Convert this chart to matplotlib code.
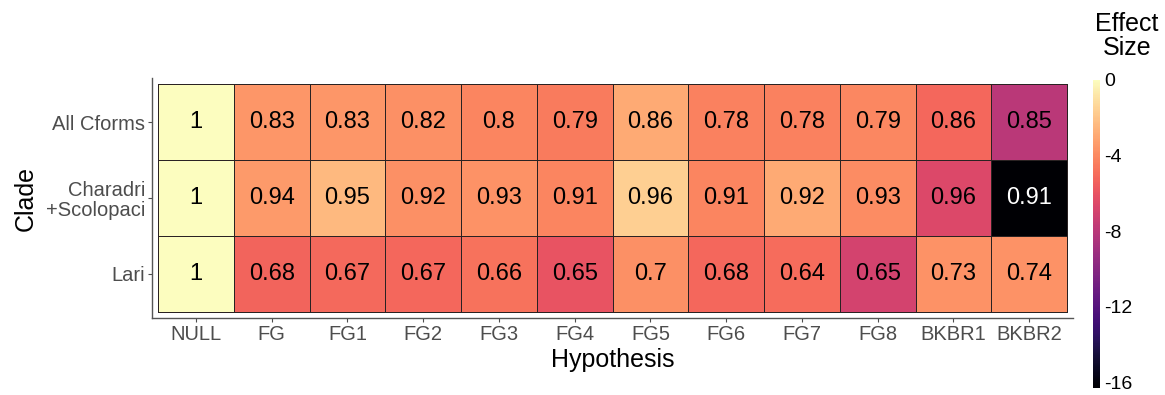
import numpy as np
import matplotlib
matplotlib.use("Agg")
import matplotlib.pyplot as plt

plt.rcParams['font.family'] = ['Liberation Sans', 'DejaVu Sans']
plt.rcParams['axes.unicode_minus'] = False

hypotheses = ['NULL', 'FG', 'FG1', 'FG2', 'FG3', 'FG4', 'FG5', 'FG6', 'FG7', 'FG8', 'BKBR1', 'BKBR2']
clades = ['All Cforms', 'Charadri\n+Scolopaci', 'Lari']

# effect size (fill colour)
effect_all = [0, -3.6, -3.6, -3.8, -4.2, -4.5, -2.9, -4.3, -4.3, -4.1, -5.2, -8.0]
effect_char = [0, -3.5, -2.4, -3.8, -3.7, -4.2, -1.6, -4.2, -2.9, -3.9, -6.6, -16.3]
effect_lari = [0, -5.3, -5.1, -5.2, -4.8, -6.0, -3.8, -5.2, -5.0, -7.0, -3.7, -3.7]

# numbers printed in the cells
label_all = ['1', '0.83', '0.83', '0.82', '0.8', '0.79', '0.86', '0.78', '0.78', '0.79', '0.86', '0.85']
label_char = ['1', '0.94', '0.95', '0.92', '0.93', '0.91', '0.96', '0.91', '0.92', '0.93', '0.96', '0.91']
label_lari = ['1', '0.68', '0.67', '0.67', '0.66', '0.65', '0.7', '0.68', '0.64', '0.65', '0.73', '0.74']

effects = np.array([effect_all, effect_char, effect_lari])
labels = [label_all, label_char, label_lari]
vmin, vmax = -16.3, 0

fig = plt.figure(figsize=(11.65, 3.95), dpi=100)
ax = fig.add_axes([0.1305, 0.1949, 0.7906, 0.6076])

nr, nc = effects.shape
xe = np.arange(nc + 1) - 0.5
ye = np.arange(nr + 1) - 0.5
mesh = ax.pcolormesh(xe, ye, effects, cmap='magma', vmin=vmin, vmax=vmax,
                     edgecolors='#2a2222', linewidth=0.65)

for i in range(nr):
    for j in range(nc):
        col = 'white' if effects[i, j] < -12 else 'black'
        ax.text(j, i, labels[i][j], ha='center', va='center', fontsize=17, color=col)

ax.set_xlim(-0.58, nc - 0.42)
ax.set_ylim(nr - 0.42, -0.58)
ax.set_xticks(range(nc))
ax.set_xticklabels(hypotheses)
ax.set_yticks(range(nr))
ax.set_yticklabels(clades, linespacing=1.05)
ax.tick_params(colors='#4d4d4d', labelsize=14.5, length=3, width=0.8, pad=2)
for lab in ax.get_xticklabels() + ax.get_yticklabels():
    lab.set_color('#4d4d4d')
for s in ['top', 'right']:
    ax.spines[s].set_visible(False)
for s in ['left', 'bottom']:
    ax.spines[s].set_color('#555555')
    ax.spines[s].set_linewidth(1.0)

ax.set_xlabel('Hypothesis', fontsize=18, labelpad=3)
ax.set_ylabel('Clade', fontsize=18, labelpad=6)

cax = fig.add_axes([0.9382, 0.018, 0.006, 0.78])
cb = fig.colorbar(mesh, cax=cax, ticks=[0, -4, -8, -12, -16])
cb.set_ticklabels(['0', '-4', '-8', '-12', '-16'])
cb.outline.set_visible(False)
cb.ax.tick_params(length=0, labelsize=14, pad=3)
fig.text(0.9675, 0.91, 'Effect\nSize', ha='center', va='center', fontsize=18,
         linespacing=1.0)

fig.savefig('out.png', dpi=100)
